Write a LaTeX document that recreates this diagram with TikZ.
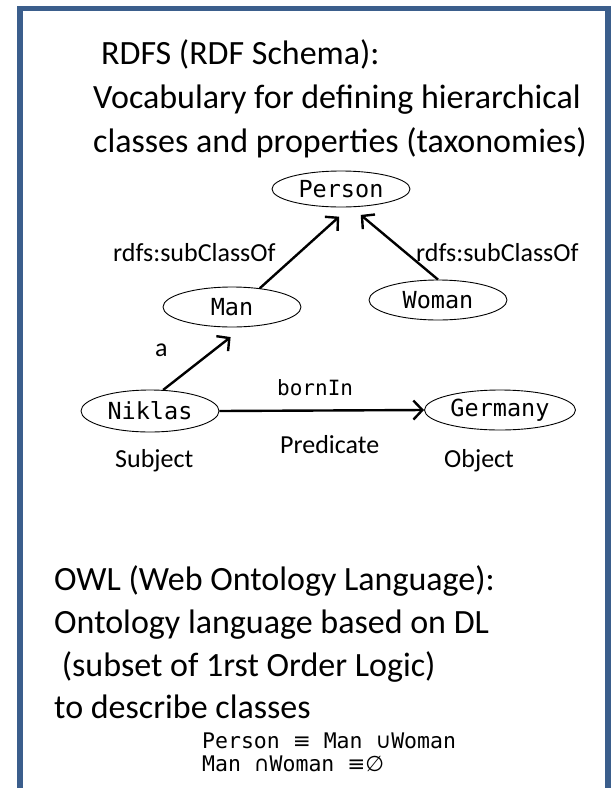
\documentclass[tikz,border=0pt]{standalone}
\usepackage{fontspec}
\setmainfont{Carlito}
\setmonofont{DejaVu Sans Mono}
\newfontfamily\symfont{DejaVu Sans}
\usetikzlibrary{positioning,arrows.meta,shapes.geometric}
\definecolor{framecol}{RGB}{59,94,140}
\newcommand{\bodysize}{\fontsize{34}{41}\selectfont}
\newcommand{\lblsize}{\fontsize{26}{31}\selectfont}
\newcommand{\clssize}{\fontsize{23.5}{28}\ttfamily\selectfont}
\newcommand{\relsize}{\fontsize{21}{25}\ttfamily\selectfont}
\newcommand{\formsize}{\fontsize{21.5}{25}\ttfamily\selectfont}
\tikzset{
  frameline/.style={draw=framecol,line width=5.5pt},
  txt/.style={inner sep=0pt,anchor=base west,font=\bodysize},
  lbl/.style={inner sep=0pt,anchor=base west,font=\lblsize},
  cls/.style={ellipse,draw=black,line width=0.9pt,inner sep=2pt,minimum width=138pt,minimum height=38pt,font=\clssize},
  rel/.style={-{Straight Barb[length=9pt,width=19pt]},line width=2.4pt},
  formula/.style={inner sep=0pt,anchor=base west,font=\formsize}
}

\begin{document}
\begin{tikzpicture}[x=1pt,y=-1pt]
  \useasboundingbox (0,0) rectangle (611,788);
  \draw[frameline] (20,792) -- (20,8.5) -- (608,8.5) -- (608,792);

  % RDFS
  \node[txt] (rdfshead) at (101,64) {RDFS (RDF Schema):};
  \node[txt] (rdfsline1) at (93,108) {Vocabulary for defining hierarchical};
  \node[txt] (rdfsline2) at (93,152) {classes and properties (taxonomies)};

  \node[cls,minimum height=36pt] (person) at (341,189) {Person};
  \node[cls,minimum height=40pt] (man) at (232,307) {Man};
  \node[cls,minimum height=40pt] (woman) at (438,300) {Woman};
  \node[cls,minimum height=42pt] (niklas) at (150,411) {Niklas};
  \node[cls,minimum width=151pt,minimum height=40pt] (germany) at (500,410) {Germany};

  \draw[rel,shorten >=14pt] (man.34) -- (person.-65);
  \draw[rel,shorten >=12pt] (woman.north) -- (person.-60);
  \draw[rel,shorten >=16pt] (niklas.58) -- (man.-61);
  \draw[rel] (niklas.east) -- (germany.west);

  \node[lbl] (subleft) at (113,261) {rdfs:subClassOf};
  \node[lbl] (subright) at (416,261) {rdfs:subClassOf};
  \node[lbl] (typelbl) at (155,356) {a};
  \node[inner sep=0pt,anchor=base west,font=\relsize] (bornin) at (277,395) {bornIn};
  \node[lbl] (subj) at (115,467) {Subject};
  \node[lbl] (pred) at (280,453) {Predicate};
  \node[lbl] (obj) at (444,467) {Object};

  % OWL
  \node[txt] (owlhead) at (54,590) {OWL (Web Ontology Language):};
  \node[txt] (owlline1) at (54,633) {Ontology language based on DL};
  \node[txt] (owlline2) at (54,676) {\ (subset of 1rst Order Logic)};
  \node[txt] (owlline3) at (54,718) {to describe classes};
  \node[formula] (eqone) at (202,748) {Person {\symfont ≡} Man {\symfont ∪}Woman};
  \node[formula] (eqtwo) at (202,771) {Man {\symfont ∩}Woman {\symfont ≡∅}};
\end{tikzpicture}
\end{document}
